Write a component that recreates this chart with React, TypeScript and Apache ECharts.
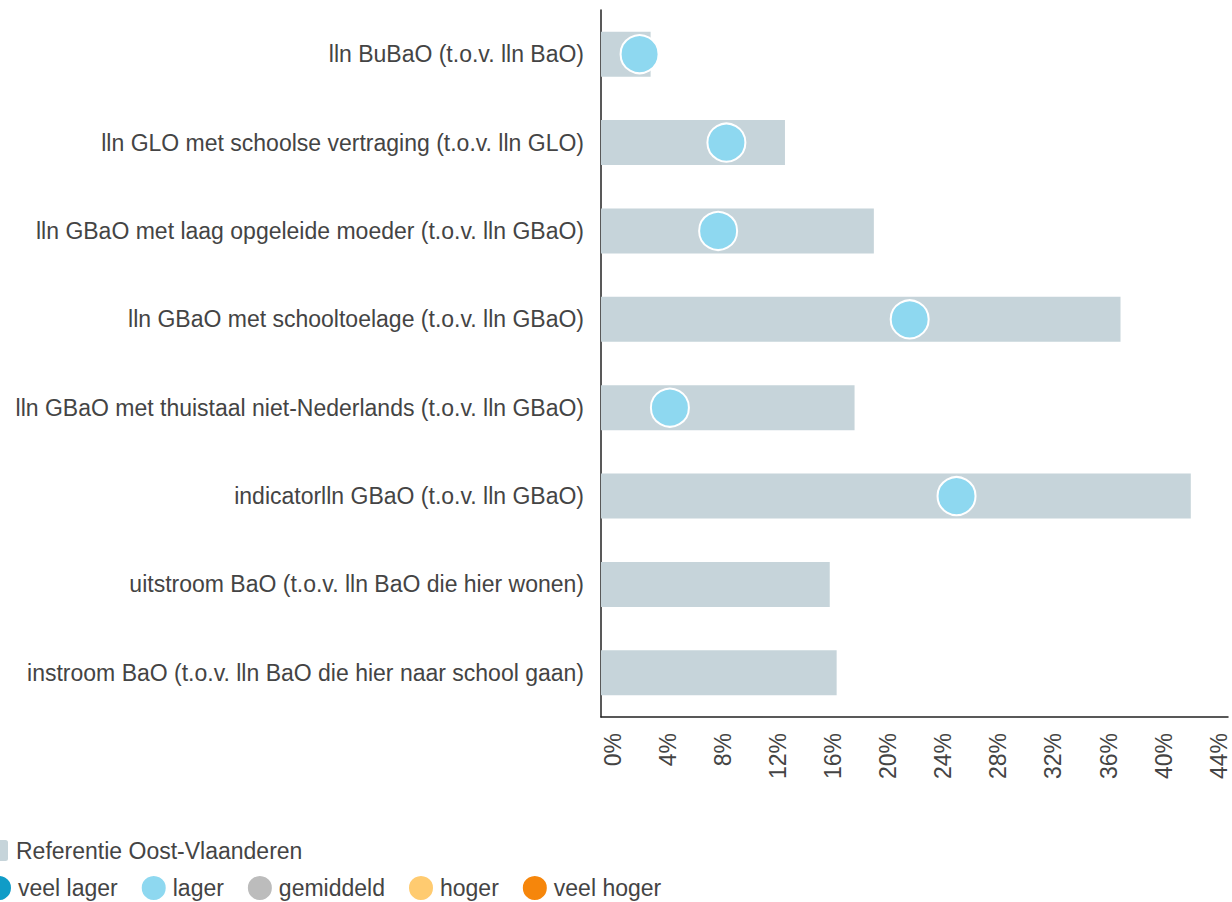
import React, { useEffect, useRef } from "react";
import * as echarts from "echarts";

const categories = [
  "lln BuBaO (t.o.v. lln BaO)",
  "lln GLO met schoolse vertraging (t.o.v. lln GLO)",
  "lln GBaO met laag opgeleide moeder (t.o.v. lln GBaO)",
  "lln GBaO met schooltoelage (t.o.v. lln GBaO)",
  "lln GBaO met thuistaal niet-Nederlands (t.o.v. lln GBaO)",
  "indicatorlln GBaO (t.o.v. lln GBaO)",
  "uitstroom BaO (t.o.v. lln BaO die hier wonen)",
  "instroom BaO (t.o.v. lln BaO die hier naar school gaan)",
];

const referenceValues = [3.6, 13.35, 19.8, 37.7, 18.4, 42.8, 16.6, 17.1];
// value per category (null = no point), classified as "lager"
const lagerValues: (number | null)[] = [2.8, 9.1, 8.5, 22.4, 5.0, 25.8, null, null];

const levelNames = ["veel lager", "lager", "gemiddeld", "hoger", "veel hoger"];
const levelColors = ["#109cc7", "#8ed8f0", "#bcbcbc", "#ffcb70", "#f6860b"];

const xTicks = [0, 4, 8, 12, 16, 20, 24, 28, 32, 36, 40, 44];

export default function App() {
  const ref = useRef<HTMLDivElement>(null);
  useEffect(() => {
    document.body.style.margin = "0";
    const chart = echarts.init(ref.current!, null, { renderer: "svg" });
    const font = "'Liberation Sans', Arial, sans-serif";
    const textColor = "#444444";
    const fs = 23;
    const scatterSeries = levelNames.map((name, i) => ({
      name,
      type: "scatter",
      symbolSize: 38,
      itemStyle: { color: levelColors[i], borderColor: "#ffffff", borderWidth: 2, opacity: 1 },
      data:
        name === "lager"
          ? lagerValues
              .map((v, idx) => (v === null ? null : [v, categories[idx]]))
              .filter((d) => d !== null)
          : [],
      z: 5,
    }));
    chart.setOption({
      animation: false,
      textStyle: { fontFamily: font },
      grid: { left: 601, right: 4, top: 10, bottom: 185, containLabel: false },
      xAxis: {
        type: "value",
        min: 0,
        max: 45.5,
        interval: 4,
        splitLine: { show: false },
        axisTick: { show: false },
        axisLine: { show: true, lineStyle: { color: "#222", width: 1.5 } },
        axisLabel: {
          rotate: 90,
          fontSize: fs,
          color: textColor,
          fontFamily: font,
          margin: 16,
          verticalAlign: "top",
          showMaxLabel: false,
          formatter: (v: number) => (xTicks.includes(v) ? v + "%" : ""),
        },
      },
      yAxis: {
        type: "category",
        data: categories,
        inverse: true,
        axisTick: { show: false },
        axisLine: { show: true, lineStyle: { color: "#222", width: 1.5 } },
        axisLabel: { fontSize: fs, color: textColor, fontFamily: font, margin: 17 },
      },
      legend: [
        {
          data: ["Referentie Oost-Vlaanderen"],
          left: -2,
          top: 839,
          padding: 0,
          itemWidth: 10,
          itemHeight: 21,
          itemGap: 10,
          textStyle: { fontSize: fs, color: textColor, fontFamily: font, padding: [0, 0, 0, 3] },
        },
        {
          data: levelNames.map((n) => ({ name: n, icon: "circle" })),
          left: -15,
          top: 874,
          padding: 0,
          itemWidth: 26,
          itemHeight: 26,
          itemGap: 22,
          textStyle: { fontSize: fs, color: textColor, fontFamily: font, padding: [0, 0, 0, 1] },
        },
      ],
      series: [
        {
          name: "Referentie Oost-Vlaanderen",
          type: "bar",
          barWidth: 45,
          itemStyle: { color: "#c6d4da" },
          data: referenceValues,
          z: 2,
        },
        ...scatterSeries,
      ],
    });
    return () => chart.dispose();
  }, []);
  return <div ref={ref} style={{ width: 1232, height: 902 }} />;
}
